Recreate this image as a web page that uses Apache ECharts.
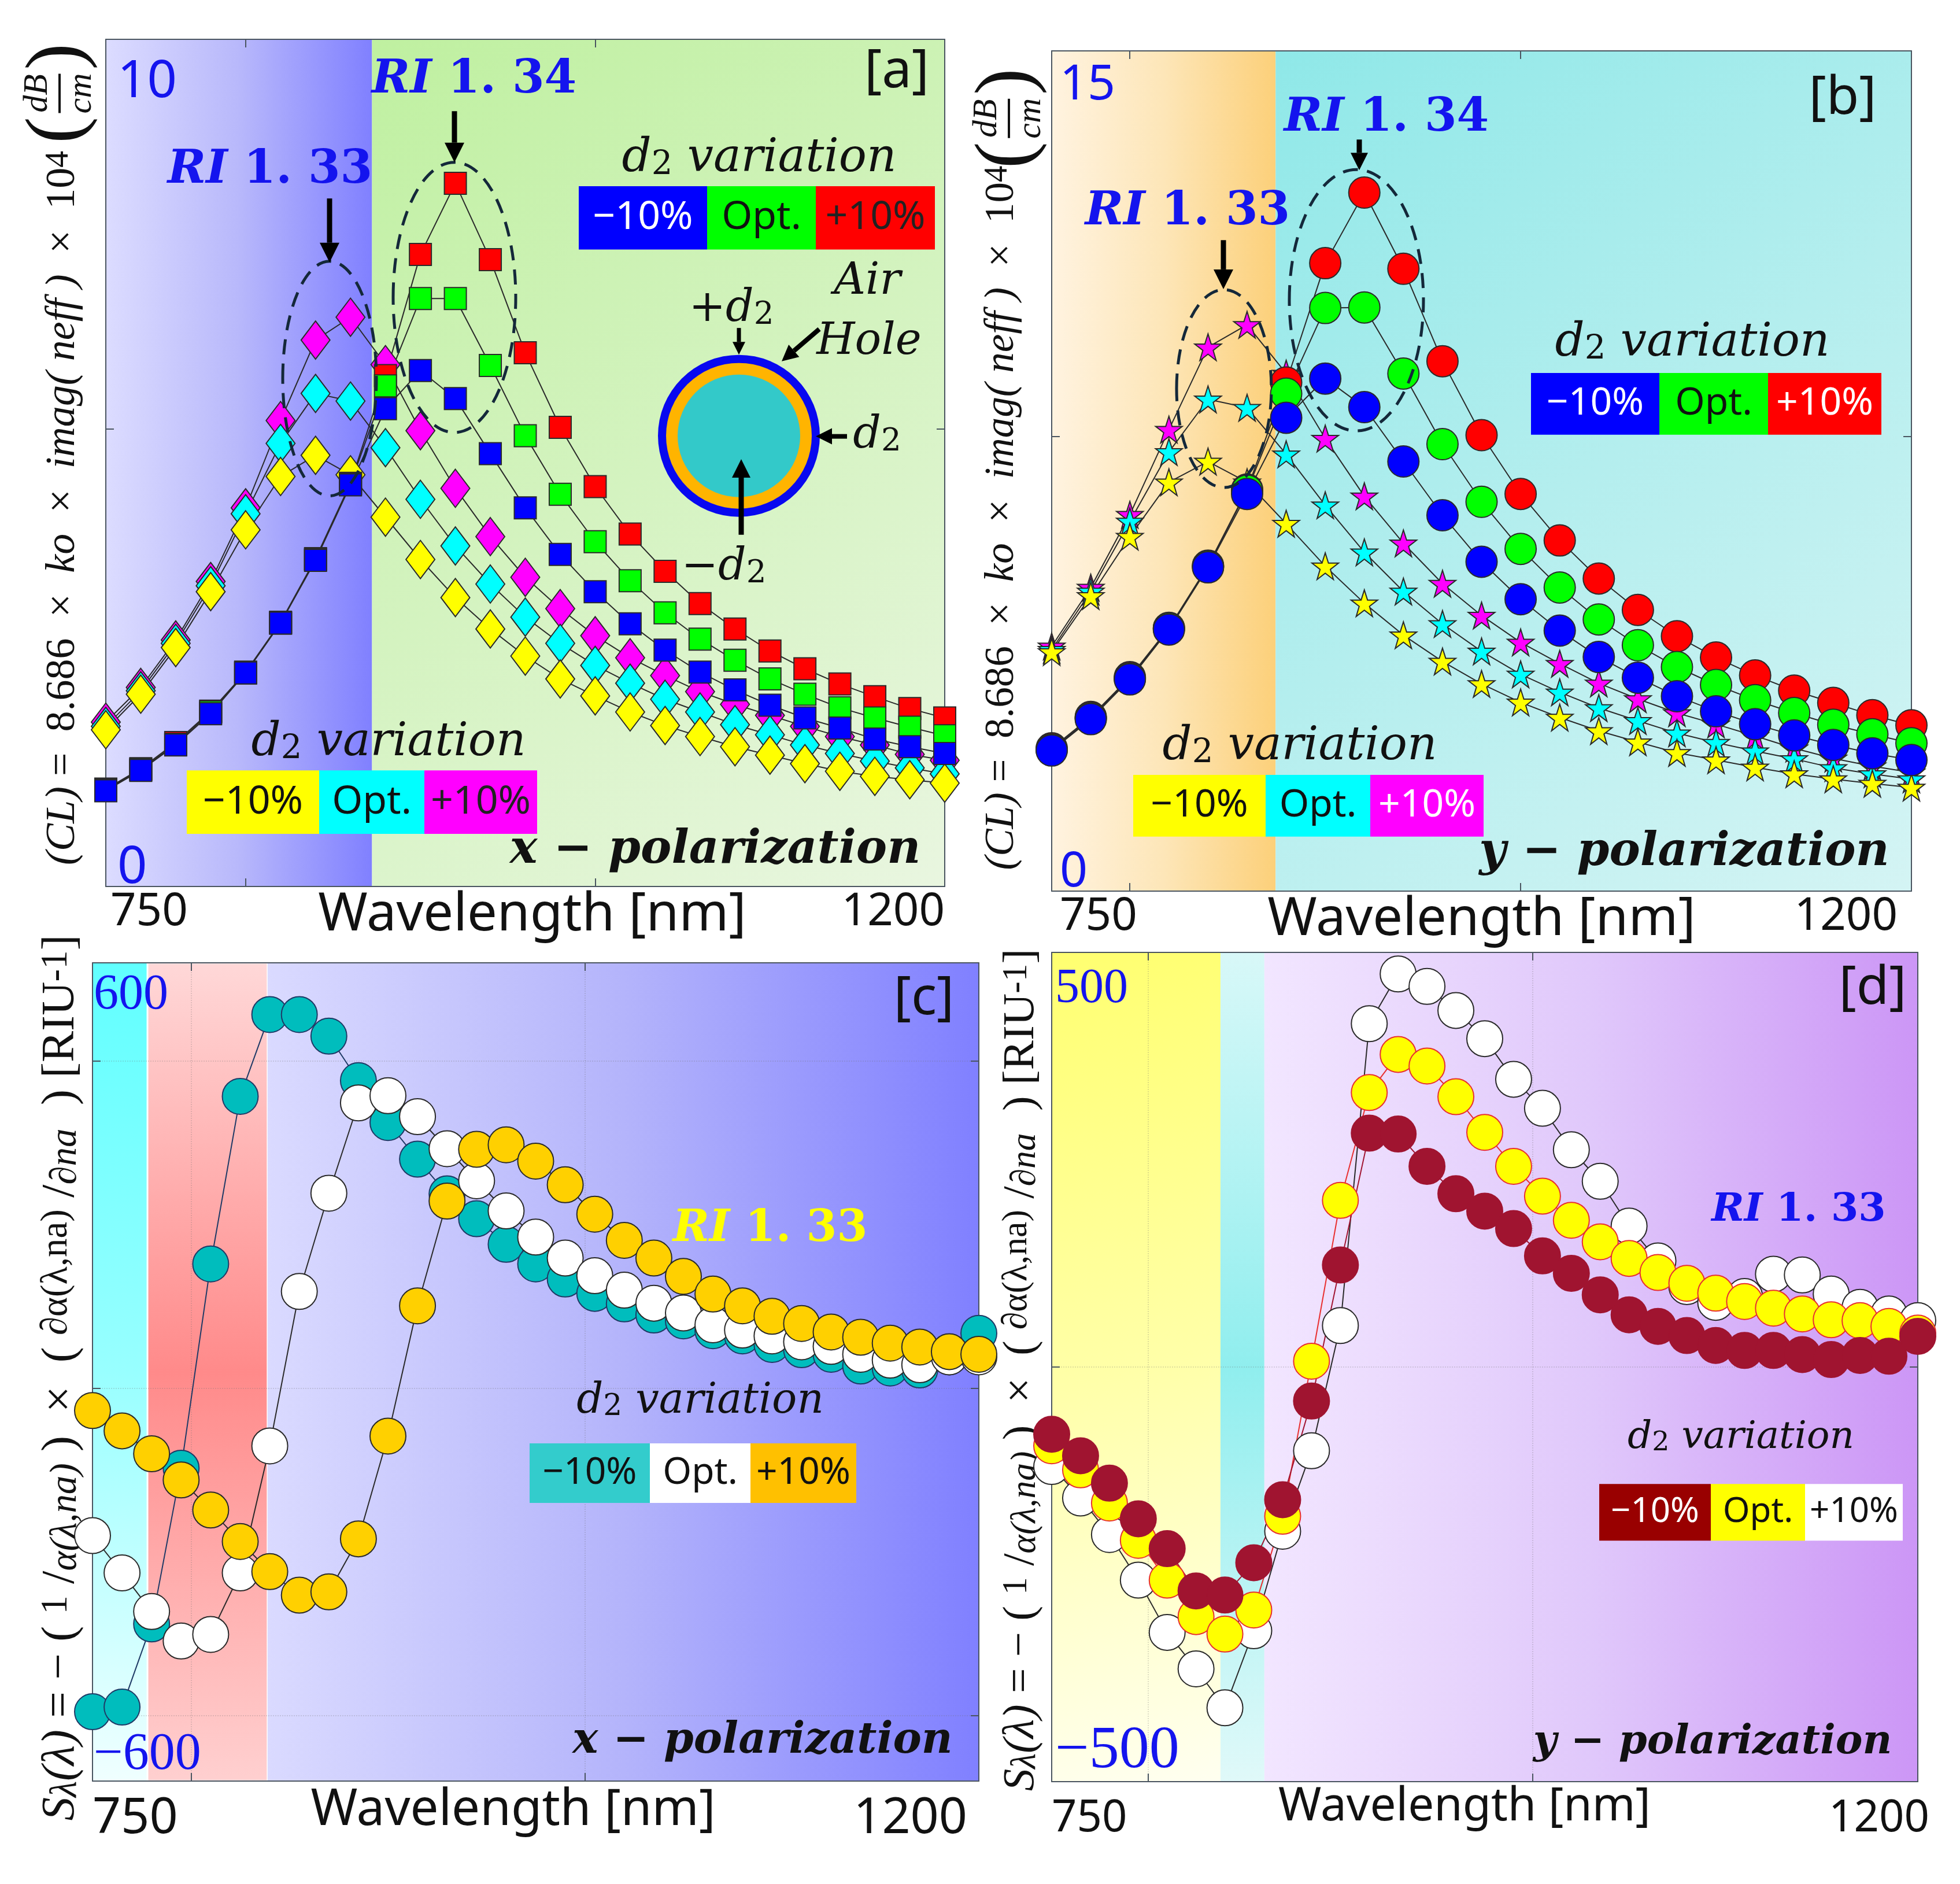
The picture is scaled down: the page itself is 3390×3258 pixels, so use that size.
<!DOCTYPE html>
<html><head><meta charset="utf-8">
<style>html,body{margin:0;padding:0;background:#fff}#c{width:3390px;height:3258px}</style>
<script src="https://cdn.jsdelivr.net/npm/echarts@6/dist/echarts.min.js"></script>
</head><body><div id="c"></div>
<script>
// ---------- wavelengths ----------
const wlA=[750,768.75,787.5,806.25,825,843.75,862.5,881.25,900,918.75,937.5,956.25,975,993.75,1012.5,1031.25,1050,1068.75,1087.5,1106.25,1125,1143.75,1162.5,1181.25,1200];
const wlB=[750,770.45,790.91,811.36,831.82,852.27,872.73,893.18,913.64,934.09,954.55,975,995.45,1015.91,1036.36,1056.82,1077.27,1097.73,1118.18,1138.64,1159.09,1179.55,1200];
const wlCD=[750,765,780,795,810,825,840,855,870,885,900,915,930,945,960,975,990,1005,1020,1035,1050,1065,1080,1095,1110,1125,1140,1155,1170,1185,1200];
// ---------- panel a: confinement loss, x-polarization ----------
const aBlue=[1.13,1.37,1.67,2.04,2.52,3.11,3.85,4.74,5.64,6.09,5.76,5.11,4.47,3.92,3.48,3.10,2.79,2.53,2.32,2.14,1.99,1.87,1.74,1.65,1.57];
const aGreen=[1.14,1.38,1.68,2.06,2.52,3.11,3.86,4.75,5.91,6.94,6.94,6.15,5.32,4.63,4.07,3.61,3.23,2.92,2.67,2.45,2.27,2.11,1.99,1.88,1.78];
const aRed=[1.15,1.39,1.70,2.07,2.53,3.12,3.87,4.76,6.03,7.46,8.30,7.40,6.30,5.42,4.72,4.16,3.72,3.34,3.04,2.78,2.57,2.39,2.24,2.10,1.99];
const aMagenta=[1.94,2.35,2.91,3.60,4.47,5.50,6.45,6.72,6.16,5.38,4.70,4.13,3.65,3.28,2.96,2.70,2.49,2.30,2.15,2.02,1.89,1.77,1.67,1.56,1.49];
const aCyan=[1.89,2.31,2.87,3.55,4.40,5.23,5.82,5.73,5.18,4.57,4.02,3.57,3.18,2.87,2.61,2.40,2.21,2.06,1.91,1.79,1.67,1.57,1.48,1.40,1.33];
const aYellow=[1.85,2.27,2.82,3.48,4.21,4.84,5.09,4.86,4.36,3.86,3.41,3.04,2.72,2.45,2.25,2.06,1.90,1.77,1.65,1.55,1.45,1.36,1.30,1.26,1.22];
// ---------- panel b: confinement loss, y-polarization ----------
const bBlue=[2.51,3.07,3.78,4.67,5.78,7.09,8.45,9.15,8.64,7.67,6.71,5.88,5.21,4.65,4.18,3.81,3.48,3.21,2.98,2.78,2.61,2.46,2.34];
const bGreen=[2.53,3.09,3.80,4.69,5.80,7.15,8.88,10.41,10.42,9.24,7.98,6.95,6.11,5.42,4.85,4.39,4.00,3.68,3.41,3.18,2.97,2.80,2.64];
const bRed=[2.55,3.11,3.82,4.70,5.81,7.17,9.08,11.21,12.47,11.11,9.46,8.14,7.09,6.26,5.58,5.02,4.55,4.17,3.85,3.58,3.36,3.14,2.96];
const bMagenta=[4.37,5.42,6.72,8.24,9.71,10.11,9.24,8.08,7.05,6.21,5.49,4.92,4.44,4.06,3.71,3.43,3.18,2.98,2.77,2.55,2.37,2.23,2.12];
const bCyan=[4.31,5.35,6.60,7.84,8.78,8.63,7.80,6.89,6.05,5.35,4.77,4.28,3.87,3.55,3.27,3.04,2.82,2.65,2.50,2.36,2.20,2.09,2.00];
const bYellow=[4.27,5.27,6.33,7.30,7.67,7.30,6.56,5.80,5.14,4.57,4.10,3.70,3.37,3.10,2.86,2.66,2.47,2.34,2.21,2.09,2.00,1.92,1.85];
// ---------- panel c: sensitivity, x-polarization ----------
const cTeal=[-494,-487,-360,-122,190,446,571,571,538,470,406,350,297,259,220,190,167,145,129,112,103,88,80,67,59,52,34,31,28,48,84];
const cWhite=[-225,-282,-341,-386,-376,-282,-88,148,298,436,447,415,366,317,271,231,199,172,150,130,115,97,89,80,71,64,52,43,36,48,48];
const cGold=[-34,-65,-100,-140,-186,-234,-280,-316,-311,-230,-73,126,286,365,372,347,311,266,226,199,171,144,126,110,99,86,78,69,63,56,52];
// ---------- panel d: sensitivity, y-polarization ----------
const dWhite=[-120,-158,-202,-257,-320,-364,-411,-318,-198,-101,50,414,474,459,430,396,347,312,262,224,170,128,97,78,85,112,111,88,72,64,56];
const dYellow=[-95,-124,-164,-209,-257,-301,-322,-293,-180,7,201,331,377,363,326,283,242,206,177,151,131,114,101,89,79,71,64,57,56,49,41];
const dDarkRed=[-81,-107,-140,-183,-219,-270,-275,-236,-160,-41,123,282,281,242,209,188,167,134,113,87,63,49,38,26,20,20,15,9,14,13,37];
// ---------- axis ticks and labels ----------
const xLabels=[750,1200];
const xTicksA=[825,1012.5], xTicksB=[790.91,995.45], xTicksCD=[800,1000];
const yLabelsA=[0,10], yLabelsB=[0,15], yLabelsC=[-600,600], yLabelsD=[-500,500];
const yTicksA=[5.4], yTicksB=[8.12], yTicksC=[-500,0,500], yTicksD=[0];
// ---------- band edges ----------
const edgeA=892.8, edgeB=867.2, edgesC=[777.9,838.9], edgesD=[837.7,860.5];

const SANS='"Noto Sans"', SERIF='"Liberation Serif"', MATH='"DejaVu Serif"', BLUE='#1414ee';
const G=echarts.graphic;
const lin=(x0,y0,x1,y1,stops)=>new G.LinearGradient(x0,y0,x1,y1,stops.map((c,i)=>({offset:i/(stops.length-1),color:c})));

const grids=[
 {left:183,top:68,width:1451,height:1465},
 {left:1819,top:88,width:1487,height:1453},
 {left:160,top:1665,width:1533,height:1415},
 {left:1819,top:1647,width:1498,height:1434}
];
const rich1=(fs)=>({
 i:{fontFamily:SERIF,fontStyle:'italic',fontSize:fs,color:'#111'},
 n:{fontFamily:SERIF,fontSize:fs,color:'#111'},
 s:{fontFamily:SERIF,fontStyle:'italic',fontSize:fs*0.8,color:'#111',verticalAlign:'bottom'},
 u:{fontFamily:SERIF,fontSize:fs*0.8,color:'#111',verticalAlign:'top'},
 r:{fontFamily:SERIF,fontSize:fs,color:'#111'}
});
const titleCL='{i|(CL)}{n| =  8.686  ×  }{i|ko}{n|  ×  }{i|imag( neff )}{n|  ×  10}{u|4}';
const titleS='{i|S}{s|λ}{i|(λ)}{n| = − ( }{u|1}{n| /}{s|α(λ,na)}{n| )  ×  ( }{u|∂α(λ,na)}{n| /}{s|∂na}{n|  ) }{r|[RIU}{u|-1}{r|]}';
const fmt=v=>v<0?'\u2212'+(-v):String(v);

const xAxes=[],yAxes=[];
function addAxes(g,cfg){
 const line={show:true,onZero:false,lineStyle:{color:'#4a5560',width:2}};
 const tick={show:true,inside:true,length:14,lineStyle:{color:'#4a5560',width:2}};
 const grid={show:cfg.dots,lineStyle:{color:'rgba(110,110,110,0.22)',type:'dotted',width:2}};
 xAxes.push({gridIndex:g,type:'value',position:'bottom',min:750,max:1200,interval:50,z:1.5,
  axisLine:line,axisTick:Object.assign({},tick,{customValues:cfg.xTicks}),splitLine:grid,
  axisLabel:{customValues:xLabels,alignMinLabel:'left',alignMaxLabel:cfg.xAlignMax||'right',margin:cfg.xMargin,fontFamily:SANS,fontSize:cfg.xFont,color:'#111',formatter:String,padding:cfg.xPad},
  name:'Wavelength [nm]',nameLocation:'middle',nameGap:cfg.nameGap,nameMoveOverlap:false,
  nameTextStyle:{fontFamily:SANS,fontSize:cfg.nameFont,color:'#111',padding:cfg.namePad}});
 xAxes.push({gridIndex:g,type:'value',position:'top',min:750,max:1200,interval:50,z:1.5,
  axisLine:line,axisTick:Object.assign({},tick,{customValues:cfg.xTicks}),axisLabel:{show:false},splitLine:{show:false}});
 yAxes.push({gridIndex:g,type:'value',position:'left',min:cfg.yMin,max:cfg.yMax,interval:cfg.yInt,z:1.5,
  axisLine:line,axisTick:Object.assign({},tick,{customValues:cfg.yTicks}),splitLine:grid,
  axisLabel:{inside:true,customValues:cfg.yLabels,verticalAlignMinLabel:'bottom',verticalAlignMaxLabel:cfg.yAlignMax||'top',margin:cfg.yMargin,
   fontFamily:cfg.yFamily,fontSize:cfg.yFont,lineHeight:cfg.yLine,color:BLUE,formatter:v=>v<0?'{m|'+fmt(v)+'}':fmt(v),padding:cfg.yPad,
   rich:{m:{fontFamily:cfg.yFamily,fontSize:cfg.yFontNeg||cfg.yFont,color:BLUE}}},
  name:cfg.yName,nameLocation:'middle',nameRotate:90,nameGap:cfg.yGap,nameMoveOverlap:false,
  nameTextStyle:{rich:rich1(cfg.yNameFont),padding:cfg.yNamePad}});
 yAxes.push({gridIndex:g,type:'value',position:'right',min:cfg.yMin,max:cfg.yMax,interval:cfg.yInt,z:1.5,
  axisLine:line,axisTick:Object.assign({},tick,{customValues:cfg.yTicks}),axisLabel:{show:false},splitLine:{show:false}});
}
addAxes(0,{dots:false,xTicks:xTicksA,xMargin:6,xFont:78,nameGap:4,nameFont:92,namePad:[0,0,0,24],xPad:[0,0,0,8],yMin:0,yMax:10,yInt:5,yTicks:yTicksA,yLabels:yLabelsA,yMargin:20,yFamily:SANS,yFont:90,yLine:64,yPad:[42,0,0,0],yName:titleCL,yGap:38,yNameFont:72,yNamePad:[0,156,0,0]});
addAxes(1,{dots:false,xTicks:xTicksB,xMargin:6,xFont:78,nameGap:4,nameFont:92,namePad:[0,0,0,0],xPad:[0,24,0,14],yMin:0,yMax:15,yInt:5,yTicks:yTicksB,yLabels:yLabelsB,yMargin:14,yFamily:SANS,yFont:84,yLine:64,yPad:[28,0,0,0],yName:titleCL,yGap:50,yNameFont:71,yNamePad:[0,162,0,0]});
addAxes(2,{dots:true,xTicks:xTicksCD,xMargin:22,xFont:86,nameGap:8,nameFont:87,namePad:[0,78,0,0],xPad:[0,20,0,0],yMin:-600,yMax:650,yInt:100,yTicks:yTicksC,yLabels:yLabelsC,yMargin:2,yFamily:SERIF,yFont:86,yFontNeg:90,yAlignMax:'middle',yLine:undefined,yPad:0,yName:titleS,yGap:14,yNameFont:81,yNamePad:[0,20,0,0]});
addAxes(3,{dots:true,xTicks:xTicksCD,xMargin:26,xFont:76,nameGap:4,nameFont:80,namePad:[0,70,0,0],xAlignMax:'center',xPad:[0,134,0,0],yMin:-500,yMax:500,yInt:100,yTicks:yTicksD,yLabels:yLabelsD,yMargin:6,yFamily:SERIF,yFont:84,yFontNeg:104,yPad:[22,0,0,0],yName:titleS,yGap:14,yNameFont:77,yNamePad:[0,10,0,0]});

const pair=(xs,ys)=>xs.map((x,i)=>[x,ys[i]]);
function band(x0,x1,color,border){
 const it={xAxis:x0,itemStyle:{color:color,opacity:1}};
 if(border){it.itemStyle.borderColor='#fff';it.itemStyle.borderWidth=3;}
 return [it,{xAxis:x1}];
}
const bandsA=[band(750,edgeA,lin(0,0,1,0,['#dcdcff','#b8b8fb','#8080ff'])),band(edgeA,1200,lin(0,0,1,1,['#bff0a0','#d4f3c0','#e9f6e0']))];
const bandsB=[band(750,edgeB,lin(0,0,1,0,['#fff3e0','#fde6b8','#fcd07a'])),band(edgeB,1200,lin(0,0,1,1,['#8fe8e8','#b4eeee','#d4f4f4']))];
const bandsC=[band(750,edgesC[0],lin(0,1,1,0,['#f0ffff','#98ffff','#60ffff'])),band(edgesC[0],edgesC[1],lin(0,0,0,1,['#ffd8d8','#ff8a8a','#ffd0d0']),true),band(edgesC[1],1200,lin(0,0,1,0,['#dadaff','#b4b4fb','#8080ff']))];
const bandsD=[band(750,edgesD[0],lin(0,0,1,1,['#ffff70','#ffffa8','#fffff0'])),band(edgesD[0],edgesD[1],lin(0,0,0,1,['#d8f8f8','#90eeee','#e0f9f9'])),band(edgesD[1],1200,lin(0,0,1,0,['#f2e6ff','#e0c8fb','#cc96f6']))];

function S(g,xs,ys,sym,size,color,stroke,lw,bands){
 const s={type:'line',xAxisIndex:g*2,yAxisIndex:g*2,data:pair(xs,ys),symbol:sym,symbolSize:size,clip:false,showSymbol:true,showAllSymbol:true,silent:true,
  lineStyle:{color:stroke,width:lw||2},itemStyle:{color:color,borderColor:stroke,borderWidth:lw||2,opacity:1},animation:false,z:3};
 if(bands){s.markArea={silent:true,z:1,data:bands};}
 return s;
}
const DK='#2a2a2a';
const D=[50,66],SQ=38,CI=54,ST=46,C1=62,C2=62;
const STAR='path://M50 0 L61.8 35.5 L99 35.5 L69 57.5 L80 93 L50 71 L20 93 L31 57.5 L1 35.5 L38.2 35.5 Z';
const series=[
 S(0,wlA,aMagenta,'diamond',D,'#ff00ff',DK,2,bandsA),
 S(0,wlA,aCyan,'diamond',D,'#00ffff',DK),
 S(0,wlA,aYellow,'diamond',D,'#ffff00',DK),
 S(0,wlA,aRed,'rect',SQ,'#ff0000',DK),
 S(0,wlA,aGreen,'rect',SQ,'#00ff00',DK),
 S(0,wlA,aBlue,'rect',SQ,'#0000ff',DK),
 S(1,wlB,bMagenta,STAR,ST,'#ff00ff',DK,2,bandsB),
 S(1,wlB,bCyan,STAR,ST,'#00ffff',DK),
 S(1,wlB,bYellow,STAR,ST,'#ffff00',DK),
 S(1,wlB,bRed,'circle',CI,'#ff0000',DK),
 S(1,wlB,bGreen,'circle',CI,'#00ff00',DK),
 S(1,wlB,bBlue,'circle',CI,'#0000ff',DK),
 S(2,wlCD,cTeal,'circle',C1,'#00bdbd','#1f3a66',2,bandsC),
 S(2,wlCD,cWhite,'circle',C1,'#ffffff',DK),
 S(2,wlCD,cGold,'circle',C1,'#ffd000',DK),
 S(3,wlCD,dWhite,'circle',C2,'#ffffff',DK,2,bandsD),
 S(3,wlCD,dYellow,'circle',C2,'#ffff00','#e83030'),
 S(3,wlCD,dDarkRed,'circle',C2,'#a01430','#a01430')
];

// ---------- annotations ----------
const gfx=[];
const K=y=>y<1629?y*0.9613:1629+(y-1629)*0.9613;
const T=(x,y,text,opt)=>gfx.push(Object.assign({type:'text',x,y:K(y),z:20,silent:true,style:Object.assign({text,align:'center',verticalAlign:'middle',fill:'#111',fontFamily:SERIF},opt&&opt.style||opt)},opt&&opt.rotation!=null?{rotation:opt.rotation}:{}));
const RIx=(x,y,num,color,fs)=>T(x,y,'{a|RI }{b|'+num+'}',{rich:{a:{fontFamily:MATH,fontStyle:'italic',fontWeight:'bold',fontSize:fs,fill:color},b:{fontFamily:MATH,fontWeight:'bold',fontSize:fs,fill:color}}});
const VAR=(x,y,fs)=>T(x,y,'{a|d}{s|2}{a| variation}',{rich:{a:{fontFamily:MATH,fontStyle:'italic',fontSize:fs,fill:'#111'},s:{fontFamily:MATH,fontSize:fs*0.72,fill:'#111',verticalAlign:'bottom'}}});
const POL=(x,y,t,fs)=>T(x,y,t,{fontFamily:MATH,fontStyle:'italic',fontWeight:'bold',fontSize:fs,fill:'#111'});
const LAB=(x,y,t,fs)=>T(x,y,t,{fontFamily:SANS,fontSize:fs,fill:'#111'});
function legend(xs,y0,y1,colors,texts,fills,fs){
 for(let i=0;i<3;i++){
  gfx.push({type:'rect',z:18,silent:true,shape:{x:xs[i],y:K(y0),width:xs[i+1]-xs[i],height:K(y1)-K(y0)},style:{fill:colors[i]}});
  T((xs[i]+xs[i+1])/2,(y0+y1)/2,texts[i],{fontFamily:SANS,fontSize:fs,fill:fills[i]});
 }
}
function arrow(x0,y0r,x1,y1r,w,head){
 const y0=K(y0r),y1=K(y1r);
 const a=Math.atan2(y1-y0,x1-x0),c=Math.cos(a),s=Math.sin(a);
 const bx=x1-head*c,by=y1-head*s,hw=head*0.5;
 gfx.push({type:'line',z:19,silent:true,shape:{x1:x0,y1:y0,x2:bx,y2:by},style:{stroke:'#000',lineWidth:w}});
 gfx.push({type:'polygon',z:19,silent:true,shape:{points:[[x1,y1],[bx-hw*s,by+hw*c],[bx+hw*s,by-hw*c]]},style:{fill:'#000'}});
}
const ell=(cx,cy,rx,ry)=>gfx.push({type:'ellipse',z:17,silent:true,shape:{cx,cy:K(cy),rx,ry:ry*0.9613},style:{fill:'none',stroke:'#14283a',lineWidth:5,lineDash:[26,16]}});
const dd=(x,y,pre,fs)=>T(x,y,'{a|'+pre+'d}{s|2}',{rich:{a:{fontFamily:MATH,fontStyle:'italic',fontSize:fs,fill:'#111'},s:{fontFamily:MATH,fontSize:fs*0.72,fill:'#111',verticalAlign:'bottom'}}});
function frac(cx,cy,off,fs){
 T(cx-off,cy,'dB',{rotation:Math.PI/2,style:{fontFamily:SERIF,fontStyle:'italic',fontSize:fs,fill:'#111'}});
 T(cx+off,cy,'cm',{rotation:Math.PI/2,style:{fontFamily:SERIF,fontStyle:'italic',fontSize:fs,fill:'#111'}});
 gfx.push({type:'rect',z:20,silent:true,shape:{x:cx-2,y:K(cy)-34,width:4,height:68},style:{fill:'#111'}});
 T(cx,cy+66,'(',{rotation:Math.PI/2,style:{fontFamily:SERIF,fontSize:fs*2.3,fill:'#111'}});
 T(cx,cy-66,')',{rotation:Math.PI/2,style:{fontFamily:SERIF,fontSize:fs*2.3,fill:'#111'}});
}
// panel a
LAB(1551,130,'[a]',92);
RIx(820,145,'1. 34',BLUE,80); RIx(467,307,'1. 33',BLUE,80);
arrow(786,200,786,292,9,34); arrow(570,357,570,472,9,34);
ell(786,535,106,243); ell(570,681,81,211);
VAR(1313,286,80);
legend([1001,1223,1411,1617],335,449,['#0000ff','#00ff00','#ff0000'],['\u221210%','Opt.','+10%'],['#fff','#111','#222'],68);
VAR(672,1337,80);
legend([323,552,734,929],1386,1500,['#ffff00','#00ffff','#ff00ff'],['\u221210%','Opt.','+10%'],['#111','#111','#222'],68);
T(1500,508,'Air',{fontFamily:MATH,fontStyle:'italic',fontSize:76,fill:'#111'});
T(1503,616,'Hole',{fontFamily:MATH,fontStyle:'italic',fontSize:76,fill:'#111'});
dd(1265,557,'+',76);
gfx.push({type:'circle',z:16,silent:true,shape:{cx:1278,cy:K(784),r:140},style:{fill:'#0808f0'}});
gfx.push({type:'circle',z:16,silent:true,shape:{cx:1278,cy:K(784),r:126},style:{fill:'#ffb400'}});
gfx.push({type:'circle',z:16,silent:true,shape:{cx:1278,cy:K(784),r:106},style:{fill:'#33c9c9'}});
arrow(1278,590,1278,638,7,22); arrow(1417,592,1352,650,8,28); arrow(1465,785,1411,785,8,28); arrow(1282,962,1282,826,9,32);
dd(1517,785,'',76); dd(1252,1022,'\u2212',76);
POL(1237,1530,'x − polarization',80);
frac(103,168,38,60);
// panel b
LAB(3187,178,'[b]',92);
RIx(2398,213,'1. 34',BLUE,80); RIx(2054,382,'1. 33',BLUE,80);
arrow(2351,251,2351,306,9,30); arrow(2116,432,2116,520,9,34);
ell(2346,540,116,235); ell(2117,699,82,178);
VAR(2927,618,80);
legend([2648,2870,3058,3254],671,782,['#0000ff','#00ff00','#ff0000'],['\u221210%','Opt.','+10%'],['#fff','#111','#fff'],66);
VAR(2248,1344,80);
legend([1960,2189,2370,2566],1394,1505,['#ffff00','#00ffff','#ff00ff'],['\u221210%','Opt.','+10%'],['#111','#111','#fff'],66);
POL(2913,1535,'y − polarization',80);
frac(1745,213,38,60);
// panel c
LAB(1598,1732,'[c]',92);
RIx(1332,2146,'1. 33','#ffff00',76);
VAR(1211,2456,72);
legend([916,1124,1298,1481],2531,2638,['#33cccc','#ffffff','#ffc000'],['\u221210%','Opt.','+10%'],['#111','#111','#111'],64);
POL(1319,3067,'x − polarization',74);
// panel d
LAB(3239,1713,'[d]',92);
RIx(3111,2112,'1. 33',BLUE,68);
VAR(3011,2521,66);
legend([2766,2959,3122,3291],2604,2706,['#990000','#ffff00','#ffffff'],['\u221210%','Opt.','+10%'],['#fff','#111','#111'],60);
POL(2962,3070,'y − polarization',70);

const chart=echarts.init(document.getElementById('c'),null,{renderer:'canvas',width:3390,height:3258});
chart.setOption({animation:false,backgroundColor:'#fff',grid:grids.map(g=>Object.assign({containLabel:false,show:false},g)),xAxis:xAxes,yAxis:yAxes,series,graphic:{elements:gfx}});
</script></body></html>
